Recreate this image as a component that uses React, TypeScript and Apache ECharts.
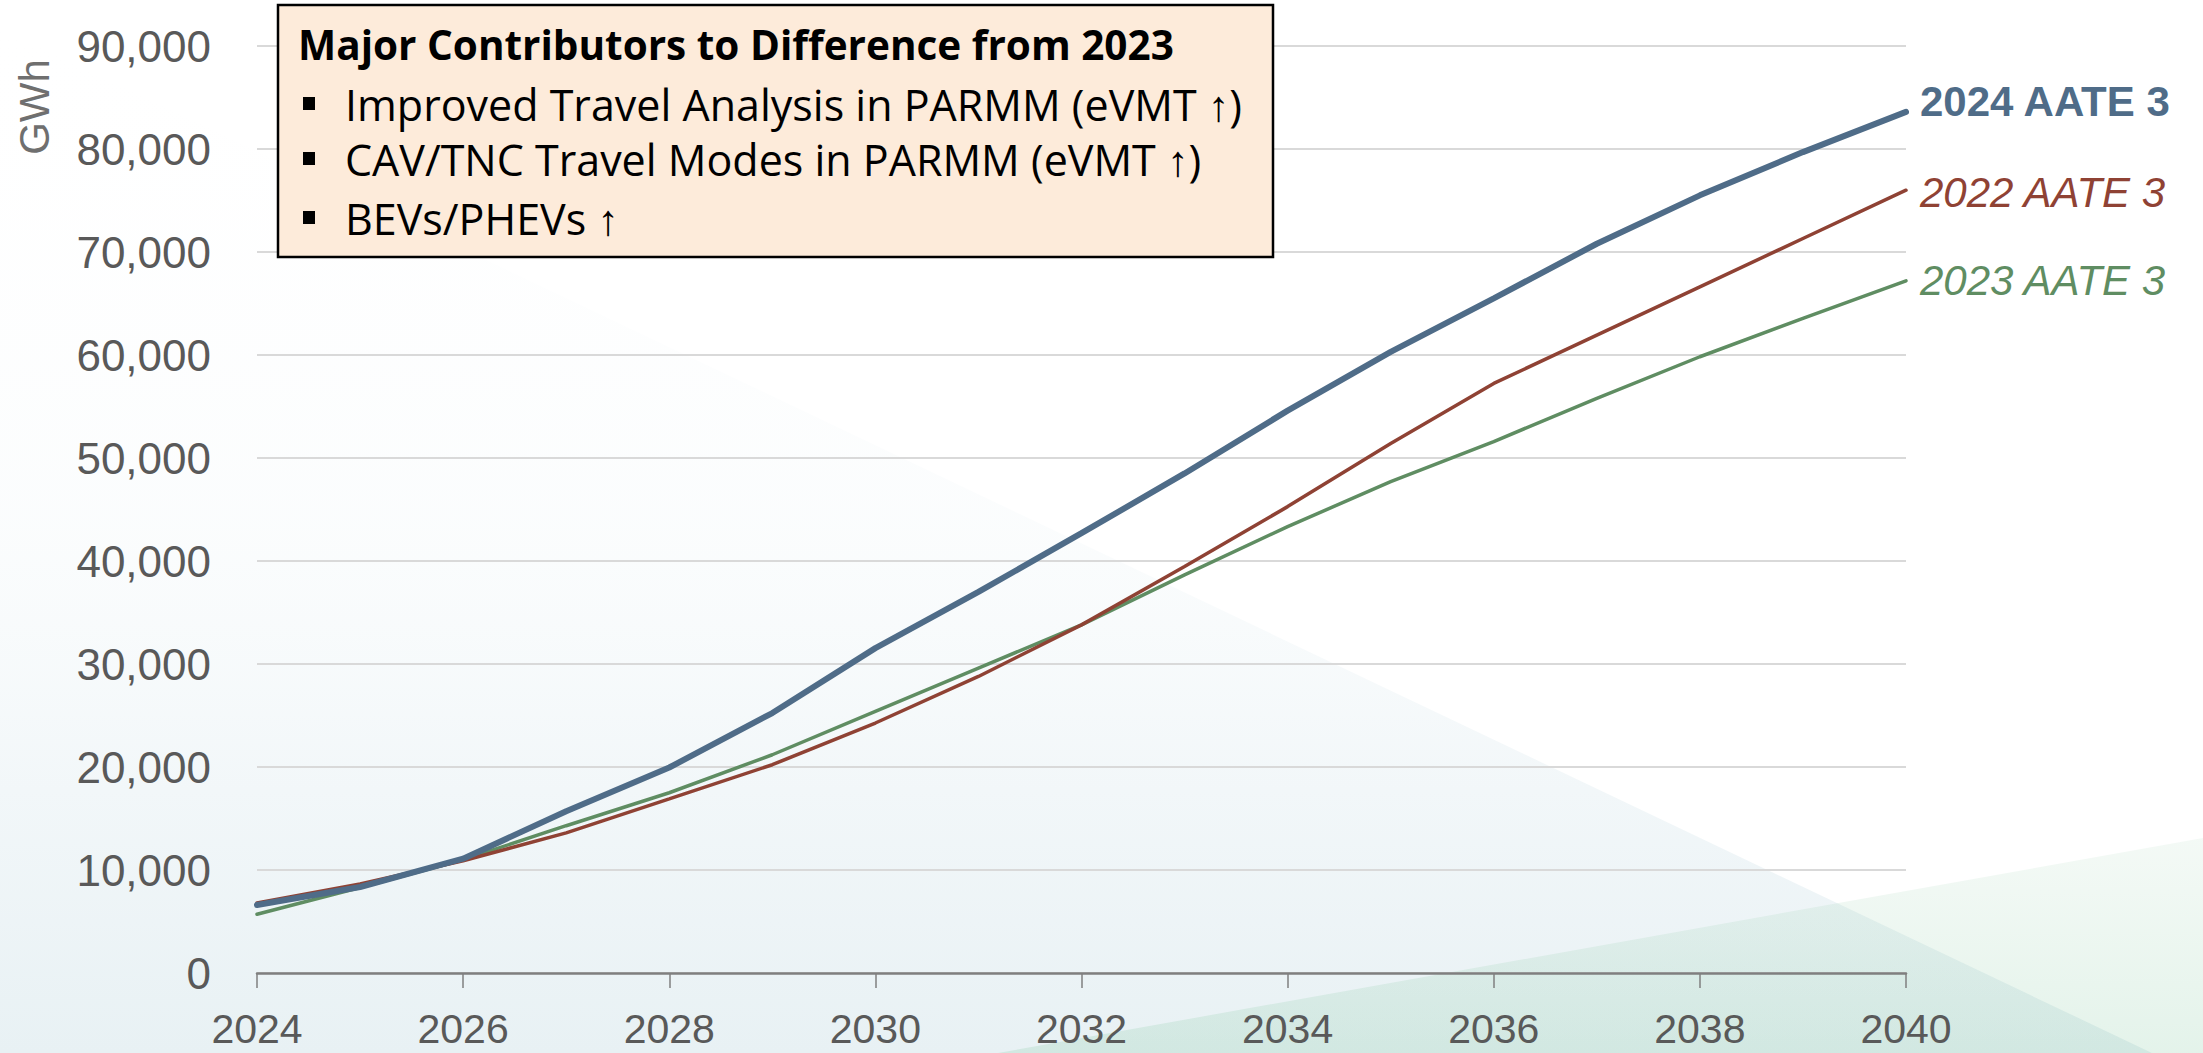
import React, { useEffect, useRef } from "react";
import * as echarts from "echarts";

const years = [2024, 2025, 2026, 2027, 2028, 2029, 2030, 2031, 2032, 2033, 2034, 2035, 2036, 2037, 2038, 2039, 2040];
const aate2024 = [6600, 8350, 11100, 15700, 19950, 25240, 31540, 37000, 42700, 48500, 54600, 60300, 65500, 70800, 75500, 79700, 83600];
const aate2022 = [6800, 8650, 10900, 13600, 16900, 20220, 24270, 28790, 33800, 39460, 45280, 51400, 57240, 61930, 66620, 71310, 76000];
const aate2023 = [5700, 8300, 11000, 14300, 17500, 21190, 25390, 29600, 33800, 38650, 43340, 47700, 51600, 55790, 59830, 63550, 67200];

const seriesNames = ["2024 AATE 3", "2022 AATE 3", "2023 AATE 3"];
const boxTitle = "Major Contributors to Difference from 2023";
const boxItems = [
  "Improved Travel Analysis in PARMM (eVMT \u2191)",
  "CAV/TNC Travel Modes in PARMM (eVMT \u2191)",
  "BEVs/PHEVs \u2191",
];
const yAxisName = "GWh";

const BLUE = "#4F6C88";
const RED = "#8F4234";
const GREEN = "#5F8D62";

export default function App() {
  const ref = useRef<HTMLDivElement>(null);
  useEffect(() => {
    document.body.style.margin = "0";
    const chart = echarts.init(ref.current!, null, { renderer: "svg" });
    const pairs = (arr: number[]) => years.map((y, i) => [y, arr[i]]);
    const axisFont = "'Liberation Sans', Arial, sans-serif";
    const boxFont = "'Open Sans', sans-serif";
    const boxTop = 5;
    const itemYs = [104, 159, 218];
    const option: any = {
      animation: false,
      backgroundColor: "#ffffff",
      grid: { left: 257, right: 297, top: 46, bottom: 80, containLabel: false },
      xAxis: {
        type: "value",
        min: 2024,
        max: 2040,
        interval: 2,
        axisLine: { show: true, lineStyle: { color: "#7f7f7f", width: 2.5 } },
        axisTick: { show: true, length: 15, lineStyle: { color: "#7f7f7f", width: 1.5 } },
        splitLine: { show: false },
        axisLabel: {
          formatter: (v: number) => String(v),
          color: "#595959",
          fontSize: 41,
          lineHeight: 36,
          fontFamily: axisFont,
          margin: 38,
        },
      },
      yAxis: {
        type: "value",
        min: 0,
        max: 90000,
        interval: 10000,
        axisLine: { show: false },
        axisTick: { show: false },
        splitLine: { show: true, lineStyle: { color: "#d9d9d9", width: 2 } },
        axisLabel: {
          color: "#595959",
          fontSize: 44,
          fontFamily: axisFont,
          margin: 46,
        },
      },
      graphic: [
        {
          type: "polygon",
          z: -10,
          silent: true,
          shape: { points: [[-60, 0], [2152, 1053], [0, 1053]] },
          style: {
            fill: new echarts.graphic.LinearGradient(0, 0, 0, 1, [
              { offset: 0, color: "rgba(255,255,255,0)" },
              { offset: 0.5, color: "rgba(248,251,252,0.6)" },
              { offset: 0.75, color: "rgba(242,247,249,1)" },
              { offset: 1, color: "rgba(232,241,244,1)" },
            ]),
          },
        },
        {
          type: "polygon",
          z: -9,
          silent: true,
          shape: { points: [[998, 1053], [2203, 838], [2203, 1053]] },
          style: {
            fill: new echarts.graphic.LinearGradient(0, 0, 0, 1, [
              { offset: 0, color: "rgba(150,205,170,0.11)" },
              { offset: 1, color: "rgba(130,200,160,0.22)" },
            ]),
          },
        },
        {
          type: "text",
          z: 50,
          x: 34,
          y: 107,
          rotation: Math.PI / 2,
          style: {
            text: yAxisName,
            fill: "#6f6f6f",
            font: `42px ${axisFont}`,
            align: "center",
            verticalAlign: "middle",
          },
        },
        {
          type: "group",
          z: 100,
          children: [
            {
              type: "rect",
              z: 100,
              shape: { x: 278, y: boxTop, width: 995, height: 252 },
              style: { fill: "#FDEBDA", stroke: "#000000", lineWidth: 2.5 },
            },
            {
              type: "text",
              z: 101,
              x: 298,
              y: 44,
              style: {
                text: boxTitle,
                fill: "#000000",
                font: `bold 40.5px ${boxFont}`,
                verticalAlign: "middle",
              },
            },
            ...boxItems.map((t, i) => ({
              type: "rect",
              z: 101,
              shape: { x: 303, y: itemYs[i] - 7, width: 12, height: 13 },
              style: { fill: "#000000" },
            })),
            ...boxItems.map((t, i) => ({
              type: "text",
              z: 101,
              x: 345,
              y: itemYs[i],
              style: {
                text: t,
                fill: "#000000",
                font: `43px ${boxFont}`,
                verticalAlign: "middle",
              },
            })),
          ],
        },
      ],
      series: [
        {
          name: seriesNames[2],
          type: "line",
          data: pairs(aate2023),
          symbol: "none",
          z: 3,
          lineStyle: { color: GREEN, width: 3.5, cap: "round" },
          endLabel: {
            show: true,
            formatter: "{a}",
            color: GREEN,
            fontSize: 42,
            fontStyle: "italic",
            fontFamily: axisFont,
            distance: 14,
            offset: [0, 0],
          },
        },
        {
          name: seriesNames[1],
          type: "line",
          data: pairs(aate2022),
          symbol: "none",
          z: 4,
          lineStyle: { color: RED, width: 3.5, cap: "round" },
          endLabel: {
            show: true,
            formatter: "{a}",
            color: RED,
            fontSize: 42,
            fontStyle: "italic",
            fontFamily: axisFont,
            distance: 14,
            offset: [0, 2],
          },
        },
        {
          name: seriesNames[0],
          type: "line",
          data: pairs(aate2024),
          symbol: "none",
          z: 5,
          lineStyle: { color: BLUE, width: 6, cap: "round" },
          endLabel: {
            show: true,
            formatter: "{a}",
            color: BLUE,
            fontSize: 42,
            fontWeight: "bold",
            fontFamily: axisFont,
            distance: 14,
            offset: [0, -10],
          },
        },
      ],
    };
    chart.setOption(option);
    return () => chart.dispose();
  }, []);
  return <div ref={ref} style={{ width: 2203, height: 1053 }} />;
}
